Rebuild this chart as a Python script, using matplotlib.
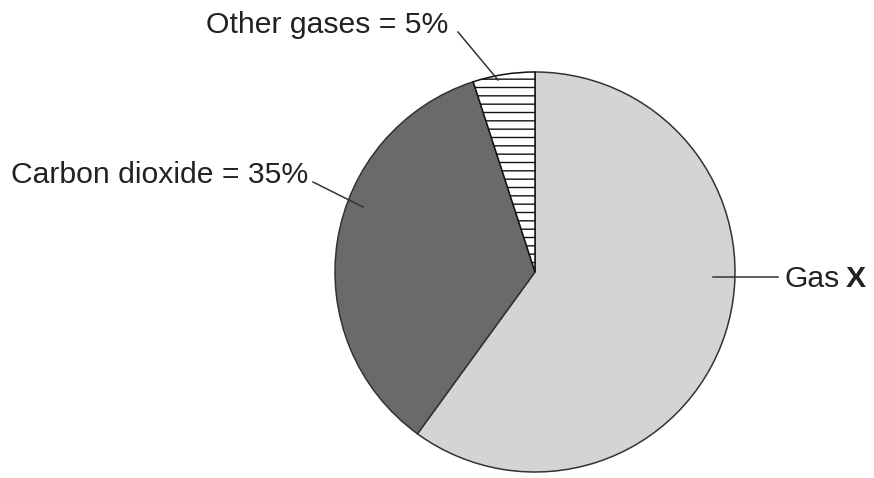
import matplotlib
matplotlib.use('Agg')
import matplotlib.pyplot as plt

# Gas composition (percent)
gases = ['Gas X', 'Carbon dioxide', 'Other gases']
shares = [60, 35, 5]
fills = ['#d4d4d4', '#6a6a6a', 'white']
hatches = [None, None, '--']

W, H = 874, 478
plt.rcParams['font.family'] = ['Liberation Sans', 'DejaVu Sans']

fig = plt.figure(figsize=(W / 100, H / 100), dpi=100)
ax = fig.add_axes([0, 0, 1, 1])

def y(v):
    # image pixel row -> axes y
    return H - v

wedges, _ = ax.pie(shares, colors=fills, startangle=90, counterclock=False,
                   center=(535, y(272)), radius=200, frame=True,
                   wedgeprops=dict(edgecolor='#333333', linewidth=1.1))
for w, h in zip(wedges, hatches):
    if h:
        w.set_hatch(h)
        w.set_edgecolor('#111111')
ax.set_xlim(0, W)
ax.set_ylim(0, H)
ax.set_aspect('equal')
ax.axis('off')

txt = dict(fontsize=21.7, color='#222222', va='baseline')
ax.text(448, y(33), f'{gases[2]} = {shares[2]}%', ha='right', **txt)
ax.text(308, y(183), f'{gases[1]} = {shares[1]}%', ha='right', **txt)
ax.text(785, y(287), 'Gas', ha='left', **txt)
ax.text(846, y(287), 'X', ha='left', fontweight='bold', **txt)

# leader lines
lc = dict(color='#333333', linewidth=1.1)
ax.plot([458, 498], [y(32), y(80)], **lc)
ax.plot([313, 363], [y(182), y(207)], **lc)
ax.plot([713, 778], [y(277), y(277)], **lc)

fig.savefig('out.png', dpi=100)
